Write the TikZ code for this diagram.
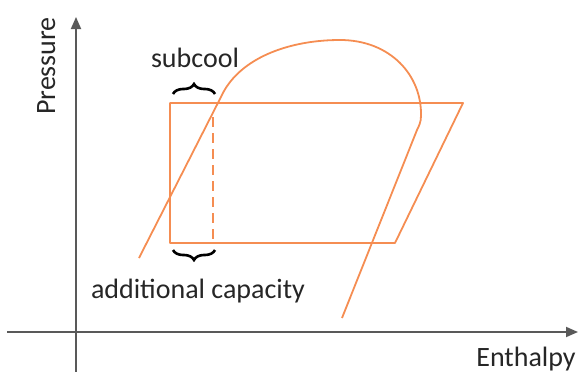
\documentclass[tikz,border=0pt]{standalone}
\usepackage{fontspec}
\setmainfont{Carlito}
\usetikzlibrary{arrows.meta,decorations.pathreplacing}
\definecolor{cycle}{HTML}{F58D52}
\definecolor{axisgray}{HTML}{595959}
\definecolor{labeltext}{HTML}{262626}
\begin{document}
\begin{tikzpicture}[x=1pt,y=-1pt,
  axis/.style={draw=axisgray,line width=1.8pt,-{Triangle[length=12pt,width=10pt]}},
  cyc/.style={draw=cycle,line width=1.8pt,line join=round},
  lbl/.style={text=labeltext,inner sep=0pt,font=\fontsize{28}{32}\selectfont},
  bracestyle/.style={draw=black,line width=2.6pt,decorate,decoration={brace,amplitude=10pt}}]
\useasboundingbox (0,0) rectangle (579,372);
% axes
\coordinate (yb) at (76,372);
\coordinate (yt) at (76,17);
\coordinate (xl) at (7,332);
\coordinate (xr) at (578,332);
\draw[axis] (yb) -- (yt);
\draw[axis] (xl) -- (xr);
\node[lbl,rotate=90,anchor=base] (pl) at (55,66) {Pressure};
\node[lbl,anchor=base] (el) at (526,366) {Enthalpy};
% cycle outline
\coordinate (a) at (170,103);
\coordinate (b) at (463,103);
\coordinate (c) at (395,243);
\coordinate (d) at (170,243);
\draw[cyc] (a) -- (b) -- (c) -- (d) -- cycle;
% saturation dome
\coordinate (s0) at (139,258);
\coordinate (s1) at (224,91);
\coordinate (s2) at (340,40);
\coordinate (s3) at (421,116);
\coordinate (s4) at (417,130);
\coordinate (s5) at (342,318);
\draw[cyc] (s0) -- (s1)
  .. controls (244,56) and (292,40) .. (s2)
  .. controls (390,40) and (422,75) .. (s3)
  .. controls (421,122) and (419,126) .. (s4)
  -- (s5);
% subcooling marker
\coordinate (dt) at (212.7,117);
\coordinate (db) at (212.7,243);
\draw[draw=cycle,line width=1.8pt,dash pattern=on 10pt off 6pt] (dt) -- (db);
\coordinate (tb1) at (173,94);
\coordinate (tb2) at (215,94);
\draw[bracestyle] (tb1) -- (tb2);
\coordinate (bb1) at (215,250);
\coordinate (bb2) at (173,250);
\draw[bracestyle] (bb1) -- (bb2);
\node[lbl,anchor=base] (sc) at (195,67) {subcool};
\node[lbl,anchor=base] (ac) at (198,298) {additional capacity};
\end{tikzpicture}
\end{document}
